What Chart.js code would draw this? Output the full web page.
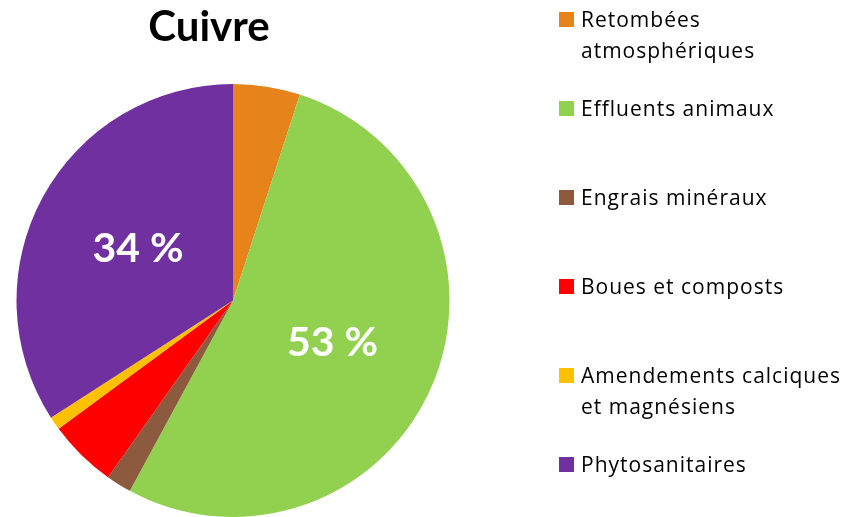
<!DOCTYPE html>
<html>
<head>
<meta charset="utf-8">
<script src="https://cdn.jsdelivr.net/npm/chart.js@4"></script>
<style>
    body { margin: 0; background: #fff; }
    #wrap { position: relative; width: 850px; height: 517px; overflow: hidden; font-family: Lato, 'Open Sans', sans-serif; }
    #title { position: absolute; left: 0; width: 418px; top: 0px; text-align: center; font-weight: bold; font-size: 42px; color: #000; }
    #legend { position: absolute; left: 559px; top: 0; }
    .item { position: absolute; left: 0; white-space: nowrap; font-family: 'Open Sans', Lato, sans-serif; font-size: 21px; letter-spacing: 1px; line-height: 31px; color: #000; }
    .box { position: absolute; left: 0; top: 8px; width: 15px; height: 15px; }
    .txt { position: absolute; left: 22px; top: 0px; }
</style>
</head>
<body>
<div id="wrap">
    <canvas id="chart" width="850" height="517"></canvas>
    <div id="title">Cuivre</div>
    <div id="legend"></div>
</div>
<script>
const title = 'Cuivre'
const categories = [
    ['Retombées', 'atmosphériques'],
    ['Effluents animaux'],
    ['Engrais minéraux'],
    ['Boues et composts'],
    ['Amendements calciques', 'et magnésiens'],
    ['Phytosanitaires'],
]
const values = [5.0, 52.9, 1.9, 5.1, 1.0, 34.1]
const colors = ['#E6831A', '#92D050', '#8B5A3F', '#FF0000', '#FFC000', '#7030A0']
const labelShown = [false, true, false, false, false, true]

// white percentage labels inside the big slices
const sliceLabels = {
    id: 'sliceLabels',
    afterDatasetsDraw(chart) {
        const ctx = chart.ctx
        const meta = chart.getDatasetMeta(0)
        ctx.save()
        ctx.fillStyle = '#fff'
        ctx.font = 'bold 41px Lato, "Open Sans", sans-serif'
        ctx.textAlign = 'center'
        ctx.textBaseline = 'middle'
        meta.data.forEach((arc, i) => {
            if (!labelShown[i]) return
            const {x, y, startAngle, endAngle, outerRadius} = arc.getProps(['x', 'y', 'startAngle', 'endAngle', 'outerRadius'])
            const mid = (startAngle + endAngle) / 2
            const r = outerRadius * 0.5
            ctx.fillText(Math.round(values[i]) + ' %', x + Math.cos(mid) * r, y + Math.sin(mid) * r)
        })
        ctx.restore()
    },
}

new Chart(document.getElementById('chart').getContext('2d'), {
    type: 'pie',
    data: {
        labels: categories,
        datasets: [
            {
                data: values,
                backgroundColor: colors,
                borderWidth: 0,
            },
        ],
    },
    options: {
        responsive: false,
        animation: false,
        layout: {
            padding: {left: 16, top: 84, right: 400, bottom: 0},
        },
        plugins: {
            legend: {display: false},
            tooltip: {enabled: false},
        },
    },
    plugins: [sliceLabels],
})

document.getElementById('title').textContent = title

const legend = document.getElementById('legend')
categories.forEach((lines, i) => {
    const item = document.createElement('div')
    item.className = 'item'
    item.style.top = (4 + i * 89) + 'px'
    const box = document.createElement('div')
    box.className = 'box'
    box.style.background = colors[i]
    const txt = document.createElement('div')
    txt.className = 'txt'
    txt.innerHTML = lines.join('<br>')
    item.appendChild(box)
    item.appendChild(txt)
    legend.appendChild(item)
})
</script>
</body>
</html>
